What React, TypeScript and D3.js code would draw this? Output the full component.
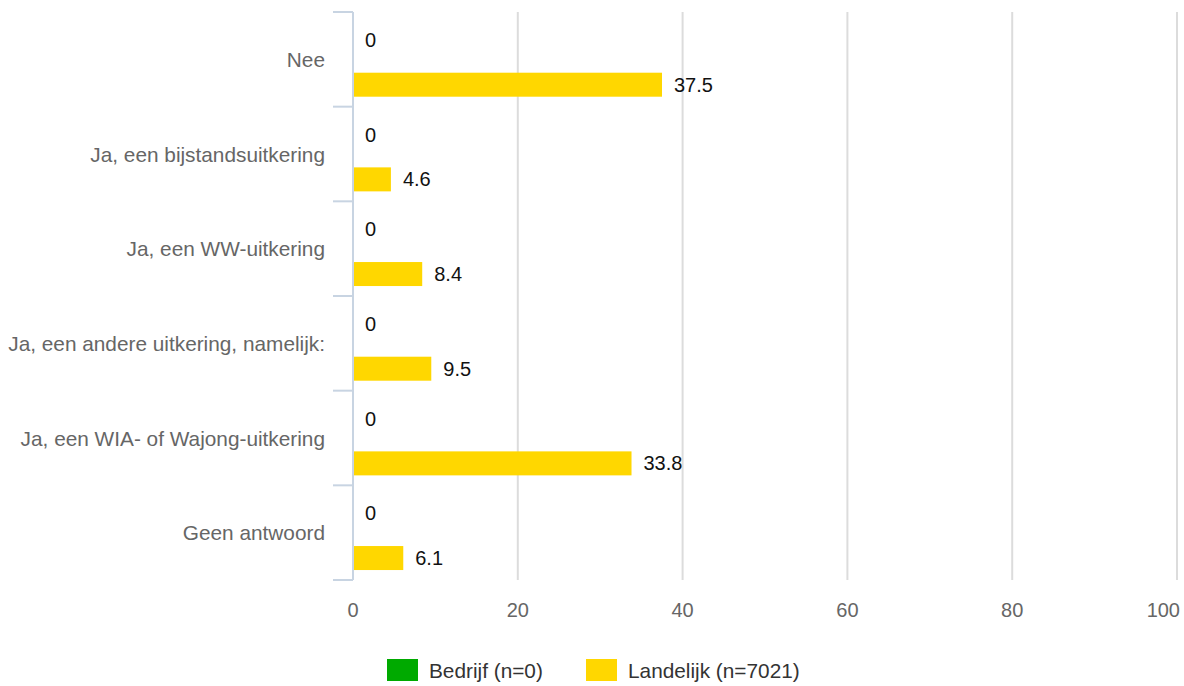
import React from "react";
import * as d3 from "d3";

const categories = [
  "Nee",
  "Ja, een bijstandsuitkering",
  "Ja, een WW-uitkering",
  "Ja, een andere uitkering, namelijk:",
  "Ja, een WIA- of Wajong-uitkering",
  "Geen antwoord",
];
const seriesNames = ["Bedrijf (n=0)", "Landelijk (n=7021)"];
const bedrijf = [0, 0, 0, 0, 0, 0];
const landelijk = [37.5, 4.6, 8.4, 9.5, 33.8, 6.1];
const xTicks = [0, 20, 40, 60, 80, 100];
const colors = ["#00AA00", "#FFD700"];

const W = 1184;
const H = 686;
const FONT = "Arial, 'Liberation Sans', sans-serif";

export default function App() {
  const x = d3.scaleLinear().domain([0, 100]).range([353, 1177]);
  const y = d3.scaleBand<string>().domain(categories).range([12, 580]);
  const bw = y.bandwidth();
  const inner = d3
    .scalePoint<string>()
    .domain(seriesNames)
    .range([0.296 * bw, 0.768 * bw]);
  const barH = 24;
  const values = [bedrijf, landelijk];
  const boundaries = categories.map((c) => y(c)!).concat([580]);

  const legendX = [387, 586];

  return (
    <svg
      width={W}
      height={H}
      style={{ position: "absolute", left: 0, top: 0, background: "#fff" }}
      fontFamily={FONT}
    >
      {/* gridlines */}
      {xTicks.slice(1).map((t) => (
        <line
          key={"g" + t}
          x1={x(t)}
          x2={x(t)}
          y1={12}
          y2={580}
          stroke="#DCDCDC"
          strokeWidth={2}
        />
      ))}
      {/* bars */}
      {categories.map((c, i) =>
        seriesNames.map((s, si) => {
          const v = values[si][i];
          const cy = y(c)! + inner(s)!;
          return (
            <g key={c + s}>
              <rect
                x={x(0)}
                y={cy - barH / 2}
                width={x(v) - x(0)}
                height={barH}
                fill={colors[si]}
              />
              <text
                x={x(v) + 12}
                y={cy}
                dominantBaseline="central"
                fontSize={20}
                fill="#111"
              >
                {String(v)}
              </text>
            </g>
          );
        })
      )}
      {/* y axis */}
      <line x1={353} x2={353} y1={12} y2={580} stroke="#C8D4E2" strokeWidth={2} />
      {boundaries.map((b, i) => (
        <line
          key={"t" + i}
          x1={333}
          x2={353}
          y1={b}
          y2={b}
          stroke="#C8D4E2"
          strokeWidth={2}
        />
      ))}
      {categories.map((c) => (
        <text
          key={"l" + c}
          x={325}
          y={y(c)! + bw / 2}
          textAnchor="end"
          dominantBaseline="central"
          fontSize={20.8}
          fill="#666"
        >
          {c}
        </text>
      ))}
      {/* x tick labels */}
      {xTicks.map((t) => (
        <text
          key={"x" + t}
          x={x(t)}
          y={610}
          textAnchor={t === 100 ? "end" : "middle"}
          dx={t === 100 ? 3 : 0}
          dominantBaseline="central"
          fontSize={20}
          fill="#666"
        >
          {t}
        </text>
      ))}
      {/* legend */}
      {seriesNames.map((s, si) => (
        <g key={"leg" + s}>
          <rect x={legendX[si]} y={659} width={31} height={22} fill={colors[si]} />
          <text
            x={legendX[si] + 42}
            y={670}
            dominantBaseline="central"
            fontSize={20.8}
            fill="#333"
          >
            {s}
          </text>
        </g>
      ))}
    </svg>
  );
}
